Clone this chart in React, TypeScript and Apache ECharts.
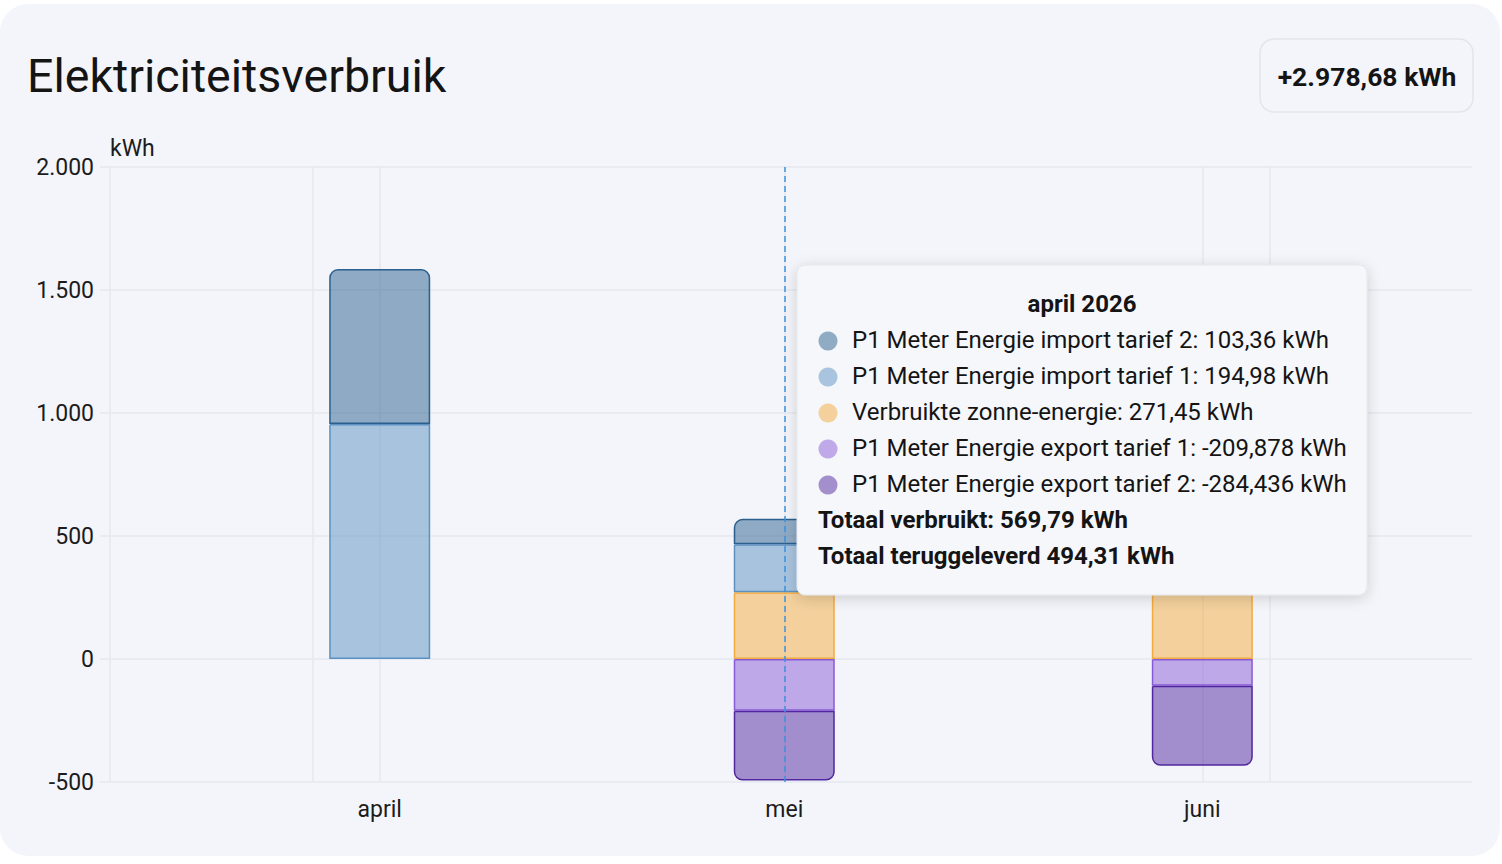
import React, { useEffect, useRef } from "react";
import * as echarts from "echarts";

// x positions: day offset counted from 1 April
const monthDays = [0, 30, 61];
const monthLabels = ["april", "mei", "juni"];

const solarUsed = [null, 271.45, 450];
const importTariff1 = [955, 194.98, 230];
const importTariff2 = [630, 103.36, 144];
const exportTariff1 = [null, -209.878, -109];
const exportTariff2 = [null, -284.436, -325];

const seriesNames = {
  imp2: "P1 Meter Energie import tarief 2",
  imp1: "P1 Meter Energie import tarief 1",
  solar: "Verbruikte zonne-energie",
  exp1: "P1 Meter Energie export tarief 1",
  exp2: "P1 Meter Energie export tarief 2",
};

const yMin = -500;
const yMax = 2000;
const yInterval = 500;

// visible time window, in days from 1 April
const xMin = -20;
const xMax = 81;
const gridLineDays = [-20, -5, 0, 30, 61, 66];

const hoverIndex = 1;
const tooltipTitle = "april 2026";
const titleText = "Elektriciteitsverbruik";
const headerTotal = "+2.978,68 kWh";
const unit = "kWh";

const FONT = "Roboto, 'Noto Sans', sans-serif";

const base = {
  imp2: [42, 95, 142],
  imp1: [92, 145, 194],
  solar: [242, 171, 62],
  exp1: [136, 91, 214],
  exp2: [80, 39, 158],
};
const rgba = (c: number[], a: number) => `rgba(${c[0]},${c[1]},${c[2]},${a})`;

function fmt(v: number): string {
  return String(v).replace(".", ",");
}
function fmtAxis(v: number): string {
  const s = Math.abs(v)
    .toString()
    .replace(/\B(?=(\d{3})+(?!\d))/g, ".");
  return (v < 0 ? "-" : "") + s;
}

export default function App() {
  const ref = useRef<HTMLDivElement>(null);

  useEffect(() => {
    const chart = echarts.init(ref.current!, null, { renderer: "svg" });

    const dayCategories: string[] = [];
    for (let d = xMin; d <= xMax; d++) dayCategories.push(String(d));

    const toData = (arr: (number | null)[]) =>
      dayCategories.map((c) => {
        const i = monthDays.indexOf(Number(c));
        return i >= 0 && arr[i] !== null ? arr[i] : "-";
      });

    const barDefs = [
      { key: "solar", data: solarUsed, radius: [0, 0, 0, 0] },
      { key: "imp1", data: importTariff1, radius: [0, 0, 0, 0] },
      { key: "imp2", data: importTariff2, radius: [8, 8, 0, 0] },
      { key: "exp1", data: exportTariff1, radius: [0, 0, 0, 0] },
      { key: "exp2", data: exportTariff2, radius: [0, 0, 8, 8] },
    ];

    const barSeries = barDefs.map((b) => ({
      type: "bar",
      name: (seriesNames as any)[b.key],
      stack: "energy",
      barWidth: 101,
      data: toData(b.data),
      itemStyle: {
        color: rgba((base as any)[b.key], 0.5),
        borderColor: rgba((base as any)[b.key], 1),
        borderWidth: 1.5,
        borderRadius: b.radius,
      },
      z: 3,
    }));

    // Tooltip content from the hovered month
    const hv = {
      imp2: importTariff2[hoverIndex] as number,
      imp1: importTariff1[hoverIndex] as number,
      solar: solarUsed[hoverIndex] as number,
      exp1: exportTariff1[hoverIndex] as number,
      exp2: exportTariff2[hoverIndex] as number,
    };
    const rowKeys = ["imp2", "imp1", "solar", "exp1", "exp2"];
    const totalUsed = (hv.imp2 + hv.imp1 + hv.solar).toFixed(2).replace(".", ",");
    const totalBack = (-(hv.exp1 + hv.exp2)).toFixed(2).replace(".", ",");

    const tipChildren: any[] = [
      {
        type: "rect",
        shape: { x: 0, y: 0, width: 570, height: 330, r: 8 },
        style: {
          fill: "#f6f7fb",
          stroke: "#e4e5ec",
          lineWidth: 1,
          shadowBlur: 14,
          shadowColor: "rgba(0,0,0,0.16)",
          shadowOffsetY: 3,
        },
      },
      {
        type: "text",
        x: 285,
        y: 39,
        style: {
          text: tooltipTitle,
          font: `bold 24px ${FONT}`,
          fill: "#141414",
          align: "center",
          verticalAlign: "middle",
        },
      },
    ];
    rowKeys.forEach((k, i) => {
      const y = 75 + i * 36;
      tipChildren.push({
        type: "circle",
        shape: { cx: 31, cy: y + 1, r: 9.5 },
        style: { fill: rgba((base as any)[k], 0.5) },
      });
      tipChildren.push({
        type: "text",
        x: 55,
        y,
        style: {
          text: `${(seriesNames as any)[k]}: ${fmt((hv as any)[k])} ${unit}`,
          font: `24px ${FONT}`,
          fill: "#141414",
          verticalAlign: "middle",
        },
      });
    });
    tipChildren.push({
      type: "text",
      x: 21,
      y: 255,
      style: {
        text: `Totaal verbruikt: ${totalUsed} ${unit}`,
        font: `bold 24px ${FONT}`,
        fill: "#141414",
        verticalAlign: "middle",
      },
    });
    tipChildren.push({
      type: "text",
      x: 21,
      y: 291,
      style: {
        text: `Totaal teruggeleverd ${totalBack} ${unit}`,
        font: `bold 24px ${FONT}`,
        fill: "#141414",
        verticalAlign: "middle",
      },
    });

    const option: any = {
      animation: false,
      backgroundColor: "transparent",
      textStyle: { fontFamily: FONT },
      grid: { left: 110, right: 30, top: 167, bottom: 82, containLabel: false },
      xAxis: {
        type: "category",
        data: dayCategories,
        boundaryGap: false,
        axisLine: { show: false },
        axisTick: { show: false },
        splitLine: { show: false },
        axisLabel: {
          interval: (_i: number, v: string) => monthDays.indexOf(Number(v)) >= 0,
          formatter: (v: string) => {
            const i = monthDays.indexOf(Number(v));
            return i >= 0 ? monthLabels[i] : "";
          },
          color: "#1c1c1c",
          fontSize: 23,
          fontFamily: FONT,
          margin: 16,
        },
      },
      yAxis: {
        type: "value",
        min: yMin,
        max: yMax,
        interval: yInterval,
        name: unit,
        nameLocation: "end",
        nameGap: 19,
        nameTextStyle: {
          color: "#1c1c1c",
          fontSize: 23,
          fontFamily: FONT,
          align: "left",
          verticalAlign: "middle",
        },
        axisLine: { show: false, onZero: false },
        axisTick: { show: true, length: 10, lineStyle: { color: "#e6e7ef", width: 1.5 } },
        splitLine: { show: true, lineStyle: { color: "#e6e7ef", width: 1.5 } },
        axisLabel: {
          formatter: (v: number) => fmtAxis(v),
          color: "#1c1c1c",
          fontSize: 23,
          fontFamily: FONT,
          margin: 16,
          verticalAlign: "middle",
          lineHeight: 23,
          padding: [0, 0, 3, 0],
        },
      },
      series: [
        {
          type: "line",
          data: [],
          z: 1,
          silent: true,
          markLine: {
            silent: true,
            z: 1,
            symbol: ["none", "none"],
            label: { show: false },
            lineStyle: { color: "#e6e7ef", width: 1.5, type: "solid" },
            data: gridLineDays.map((d) => ({ xAxis: String(d) })),
          },
        },
        ...barSeries,
        {
          type: "line",
          data: [],
          z: 10,
          silent: true,
          markLine: {
            silent: true,
            z: 10,
            symbol: ["none", "none"],
            label: { show: false },
            lineStyle: { color: "#3b93dd", width: 1.5, type: [6, 4] },
            data: [{ xAxis: String(monthDays[hoverIndex]) }],
          },
        },
      ],
      graphic: [
        {
          type: "text",
          x: 27,
          y: 76,
          z: 100,
          style: {
            text: titleText,
            font: `400 46.5px ${FONT}`,
            fill: "#141414",
            verticalAlign: "middle",
          },
        },
        {
          type: "rect",
          z: 100,
          shape: { x: 1260, y: 39, width: 213, height: 73, r: 14 },
          style: { fill: "#f4f5fa", stroke: "#e4e5eb", lineWidth: 1.5 },
        },
        {
          type: "text",
          x: 1367,
          y: 76,
          z: 101,
          style: {
            text: headerTotal,
            font: `bold 26.5px ${FONT}`,
            fill: "#141414",
            align: "center",
            verticalAlign: "middle",
          },
        },
        {
          type: "group",
          x: 797,
          y: 265,
          z: 200,
          children: tipChildren.map((c) => ({ ...c, z: 200 })),
        },
      ],
    };

    chart.setOption(option);
    return () => chart.dispose();
  }, []);

  return (
    <div
      style={{
        position: "fixed",
        left: 0,
        top: 0,
        width: 1502,
        height: 864,
        background: "#ffffff",
      }}
    >
      <div
        style={{
          position: "absolute",
          left: 0,
          top: 4,
          width: 1500,
          height: 852,
          background: "#f4f5fa",
          borderRadius: 28,
        }}
      />
      <div
        ref={ref}
        style={{ position: "absolute", left: 0, top: 0, width: 1502, height: 864 }}
      />
    </div>
  );
}
